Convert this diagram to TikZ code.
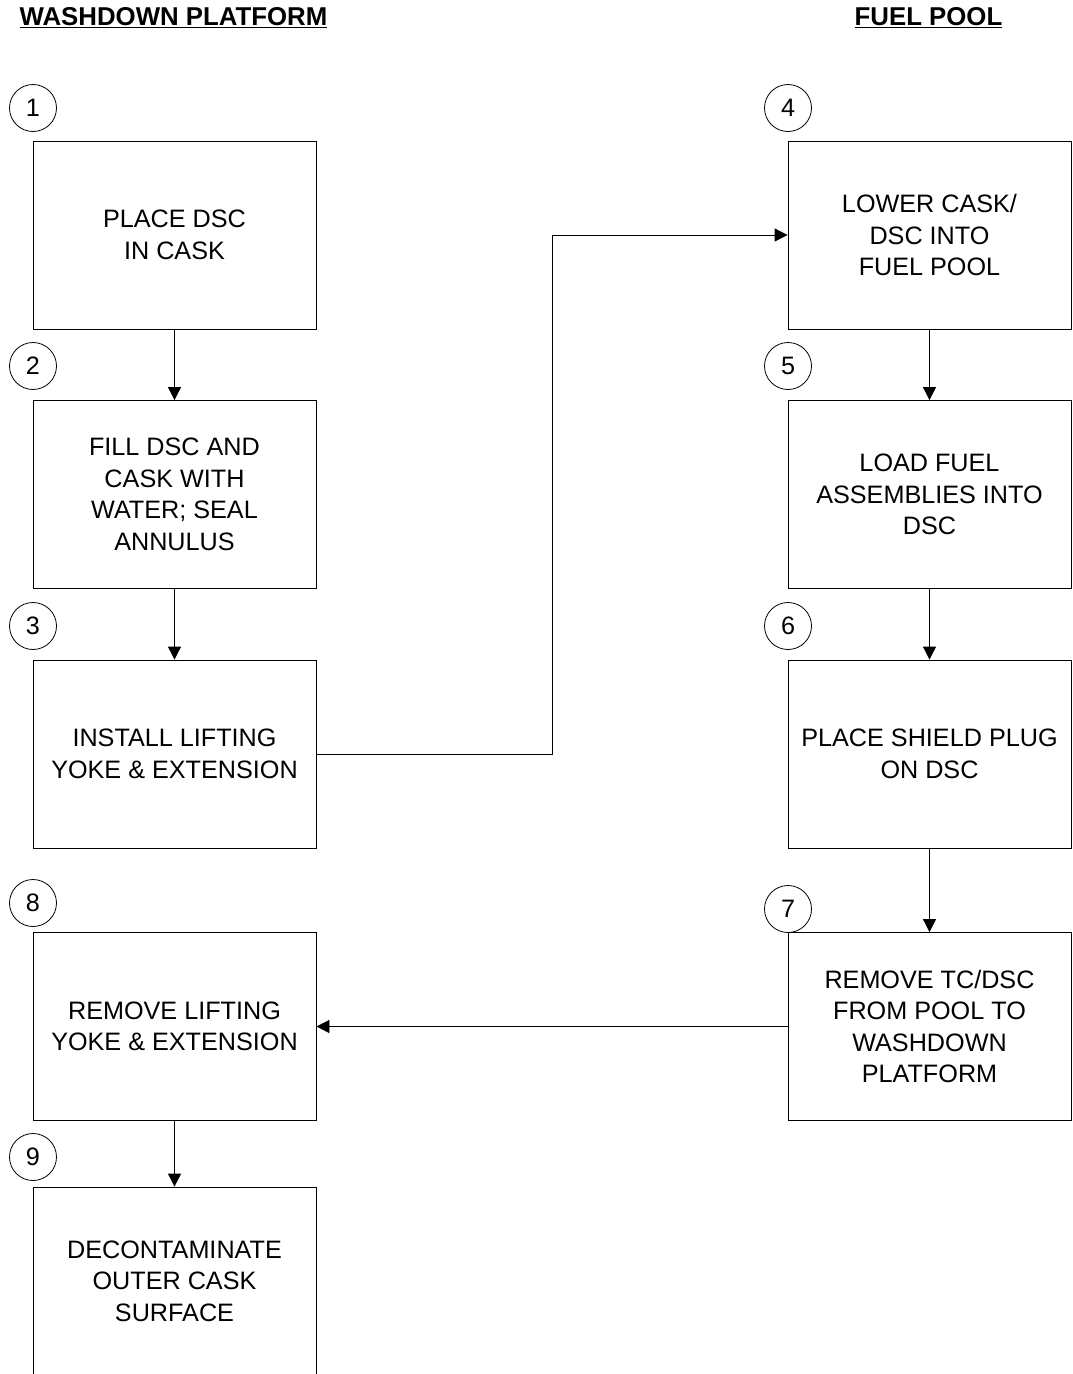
\documentclass[tikz,border=0pt]{standalone}
\usepackage{fontspec}
\setmainfont{Liberation Sans}
\usetikzlibrary{arrows.meta}
\begin{document}
\begin{tikzpicture}[x=1pt,y=-1pt,
  line width=0.8pt,
  stepbox/.style={draw, minimum width=283pt, minimum height=188pt, align=center, inner sep=0pt,
    font=\fontsize{25.2}{31.5}\selectfont},
  stepnum/.style={draw, circle, minimum size=47pt, inner sep=0pt, font=\fontsize{25.2}{28}\selectfont},
  header/.style={font=\bfseries\fontsize{25.8}{28}\selectfont},
  flow/.style={-{Triangle[length=13pt,width=13pt]}}]
\useasboundingbox (0,0) rectangle (1072,1374);
\clip (0,0) rectangle (1072,1374);

% column headings
\node[header] (hw) at (173.5,18) {\underline{WASHDOWN PLATFORM}};
\node[header] (hf) at (928.5,18) {\underline{FUEL POOL}};

% washdown platform steps
\node[stepbox] (b1) at (174.5,235)   {PLACE DSC\\IN CASK};
\node[stepbox] (b2) at (174.5,494.5) {FILL DSC AND\\CASK WITH\\WATER; SEAL\\ANNULUS};
\node[stepbox] (b3) at (174.5,754)   {INSTALL LIFTING\\YOKE \& EXTENSION};
\node[stepbox] (b8) at (174.5,1026.5) {REMOVE LIFTING\\YOKE \& EXTENSION};
\node[stepbox] (b9) at (174.5,1281)  {DECONTAMINATE\\OUTER CASK\\SURFACE};

% fuel pool steps
\node[stepbox] (b4) at (929.5,235)   {LOWER CASK/\\DSC INTO\\FUEL POOL};
\node[stepbox] (b5) at (929.5,494.5) {LOAD FUEL\\ASSEMBLIES INTO\\DSC};
\node[stepbox] (b6) at (929.5,754)   {PLACE SHIELD PLUG\\ON DSC};
\node[stepbox] (b7) at (929.5,1026.5) {REMOVE TC/DSC\\FROM POOL TO\\WASHDOWN\\PLATFORM};

% step numbers
\node[stepnum] (c1) at (33,108)  {1};
\node[stepnum] (c2) at (33,366)  {2};
\node[stepnum] (c3) at (33,626)  {3};
\node[stepnum] (c8) at (33,903)  {8};
\node[stepnum] (c9) at (33,1157) {9};
\node[stepnum] (c4) at (788,108) {4};
\node[stepnum] (c5) at (788,366) {5};
\node[stepnum] (c6) at (788,626) {6};
\node[stepnum] (c7) at (788,909) {7};

% connectors
\coordinate (jx) at (552,0);
\draw[flow] (b1) -- (b2);
\draw[flow] (b2) -- (b3);
\draw[flow] (b3.east) -- (b3.east -| jx) |- (b4.west);
\draw[flow] (b4) -- (b5);
\draw[flow] (b5) -- (b6);
\draw[flow] (b6) -- (b7);
\draw[flow] (b7.west) -- (b8.east);
\draw[flow] (b8) -- (b9);
\end{tikzpicture}
\end{document}
